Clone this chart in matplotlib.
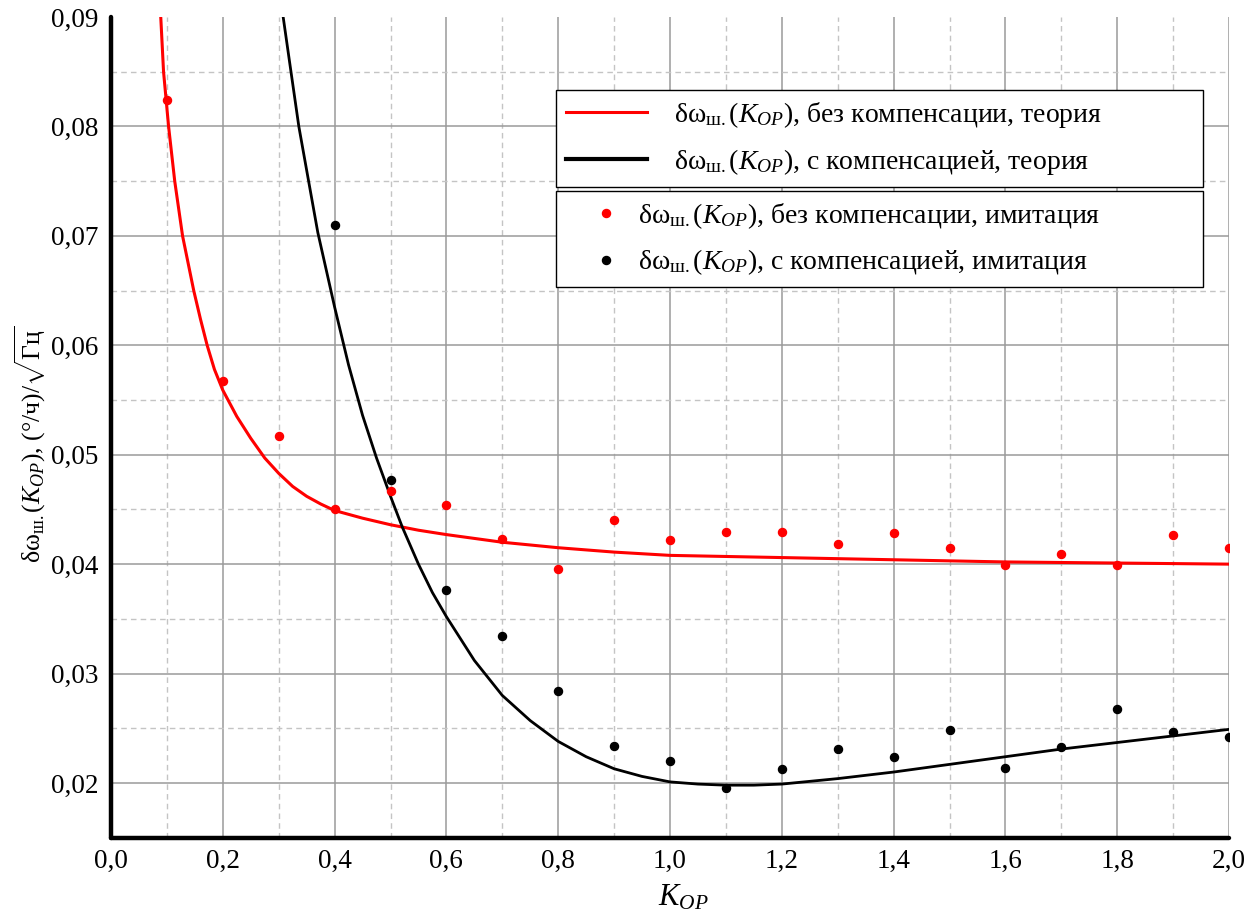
import matplotlib
matplotlib.use("Agg")
import matplotlib.pyplot as plt
from matplotlib.ticker import MultipleLocator, FuncFormatter
from matplotlib.lines import Line2D

plt.rcParams['font.family'] = ['Liberation Serif', 'DejaVu Serif']
plt.rcParams['mathtext.fontset'] = 'custom'
plt.rcParams['mathtext.rm'] = 'Liberation Serif'
plt.rcParams['mathtext.it'] = 'Liberation Serif:italic'
plt.rcParams['mathtext.bf'] = 'Liberation Serif:bold'

# коэффициент обратной связи
k_sim = [0.1, 0.2, 0.3, 0.4, 0.5, 0.6, 0.7, 0.8, 0.9, 1.0,
         1.1, 1.2, 1.3, 1.4, 1.5, 1.6, 1.7, 1.8, 1.9, 2.0]
# имитация без компенсации
red_sim = [0.0824, 0.0567, 0.0517, 0.0450, 0.0467, 0.0454, 0.0423, 0.0396, 0.0440, 0.0422,
           0.0429, 0.0429, 0.0418, 0.0428, 0.0415, 0.0399, 0.0409, 0.0399, 0.0427, 0.0415]
# имитация с компенсацией (0.1..0.3 выходят за пределы графика)
k_sim_c = k_sim[3:]
black_sim = [0.0710, 0.0477, 0.0376, 0.0334, 0.0284, 0.0234, 0.0220,
             0.0195, 0.0213, 0.0231, 0.0224, 0.0248, 0.0214, 0.0233, 0.0268, 0.0247, 0.0242]

# теория без компенсации
k_red = [0.089, 0.094, 0.103, 0.114, 0.128, 0.148, 0.16, 0.172, 0.185, 0.2, 0.225, 0.25, 0.275,
         0.3, 0.325, 0.35, 0.375, 0.4, 0.45, 0.5, 0.55, 0.6, 0.7, 0.8, 0.9, 1.0,
         1.2, 1.4, 1.6, 1.8, 2.0]
red_th = [0.0900, 0.0850, 0.0800, 0.0750, 0.0700, 0.0650, 0.0624, 0.0600, 0.0578, 0.0559, 0.0535, 0.0515, 0.0497,
          0.0483, 0.0471, 0.0462, 0.0455, 0.0449, 0.0442, 0.0436, 0.0431, 0.0427, 0.0420, 0.0415, 0.0411, 0.0408,
          0.0406, 0.0404, 0.0402, 0.0401, 0.0400]

# теория с компенсацией
k_black = [0.308, 0.32, 0.336, 0.35, 0.37, 0.4, 0.425, 0.45, 0.475, 0.5, 0.521, 0.55, 0.575,
           0.6, 0.65, 0.7, 0.75, 0.8, 0.85, 0.9, 0.95, 1.0, 1.05, 1.1, 1.15, 1.2,
           1.3, 1.4, 1.5, 1.6, 1.7, 1.8, 1.9, 2.0]
black_th = [0.0900, 0.0857, 0.0800, 0.0760, 0.0703, 0.0635, 0.0582, 0.0536, 0.0497, 0.0462, 0.0434, 0.0400, 0.0374,
            0.0352, 0.0312, 0.0280, 0.0257, 0.0238, 0.0224, 0.0213, 0.0206, 0.0201, 0.0199, 0.0198, 0.0198, 0.0199,
            0.0204, 0.0210, 0.0217, 0.0224, 0.0231, 0.0237, 0.0243, 0.0249]

W, H = 1259, 919
fig = plt.figure(figsize=(W / 100, H / 100), dpi=100)
ax = fig.add_axes([111 / W, 1 - 837.7 / H, (1229 - 111) / W, (837.7 - 17) / H])

ax.plot(k_red, red_th, color='red', lw=2.2, zorder=3)
ax.plot(k_black, black_th, color='black', lw=2.0, zorder=3)
ax.plot(k_sim, red_sim, 'o', color='red', ms=5.8, zorder=4)
ax.plot(k_sim_c, black_sim, 'o', color='black', ms=5.8, zorder=4)

ax.set_xlim(0, 2.0)
ax.set_ylim(0.015, 0.09)
ax.xaxis.set_major_locator(MultipleLocator(0.2))
ax.xaxis.set_minor_locator(MultipleLocator(0.1))
ax.yaxis.set_major_locator(MultipleLocator(0.01))
ax.yaxis.set_minor_locator(MultipleLocator(0.005))
ax.xaxis.set_major_formatter(FuncFormatter(lambda v, p: f"{v:.1f}".replace('.', ',')))
ax.yaxis.set_major_formatter(FuncFormatter(lambda v, p: f"{v:.2f}".replace('.', ',')))

ax.grid(which='major', color='#9a9a9a', lw=1.1, ls='-')
ax.grid(which='minor', color='#c4c4c4', lw=1.0, ls=(0, (4, 3)))
ax.set_axisbelow(True)
ax.tick_params(which='both', length=0, labelsize=19.5)
ax.tick_params(axis='y', pad=9)
ax.tick_params(axis='x', pad=8)
for lbl in ax.get_xticklabels() + ax.get_yticklabels():
    lbl.set_fontfamily('Liberation Serif')

for s in ['top', 'right']:
    ax.spines[s].set_visible(False)
for s in ['left', 'bottom']:
    ax.spines[s].set_linewidth(3.2)
    ax.spines[s].set_capstyle('round')
    ax.spines[s].set_zorder(5)

fig.canvas.draw()
for t in ax.yaxis.get_major_ticks():
    if abs(t.get_loc() - 0.09) < 1e-9:
        t.gridline.set_visible(False)

# две рамки легенды: теория (линии) и имитация (точки)
sub = r'δω$_{\mathrm{ш.}}$($K_{OP}$)'
box_w = (1203 - 556) / W
leg_kw = dict(loc='upper left', bbox_transform=fig.transFigure, mode='expand', fontsize=20,
              handlelength=2.9, labelspacing=0.6, borderpad=0.36, borderaxespad=0,
              fancybox=False, framealpha=1, edgecolor='black')

lines = [Line2D([], [], color='red', lw=2.2), Line2D([], [], color='black', lw=3.0)]
leg1 = ax.legend(lines, [sub + ', без компенсации, теория', sub + ', с компенсацией, теория'],
                 bbox_to_anchor=(556 / W, 1 - 90 / H - 0.01, box_w, 0.01),
                 handletextpad=0.97, **leg_kw)
leg1.get_frame().set_linewidth(1.0)
ax.add_artist(leg1)

dots = [Line2D([], [], color='red', marker='o', ls='none', ms=5.8),
        Line2D([], [], color='black', marker='o', ls='none', ms=5.8)]
leg2 = ax.legend(dots, [sub + ', без компенсации, имитация', sub + ', с компенсацией, имитация'],
                 bbox_to_anchor=(556 / W, 1 - 191 / H - 0.01, box_w, 0.01),
                 handletextpad=-0.32, **leg_kw)
leg2.get_frame().set_linewidth(1.0)

fig.text(30 / W, 1 - 444 / H, r'δω$_{\mathrm{ш.}}$($K_{OP}$), (°/ч)/$\sqrt{\mathrm{Гц}}$',
         rotation=90, ha='center', va='center', fontsize=18.5)
fig.text(683 / W, 1 - 905 / H, r'$K_{OP}$', ha='center', va='baseline', fontsize=22)

fig.savefig('out.png', dpi=100)
